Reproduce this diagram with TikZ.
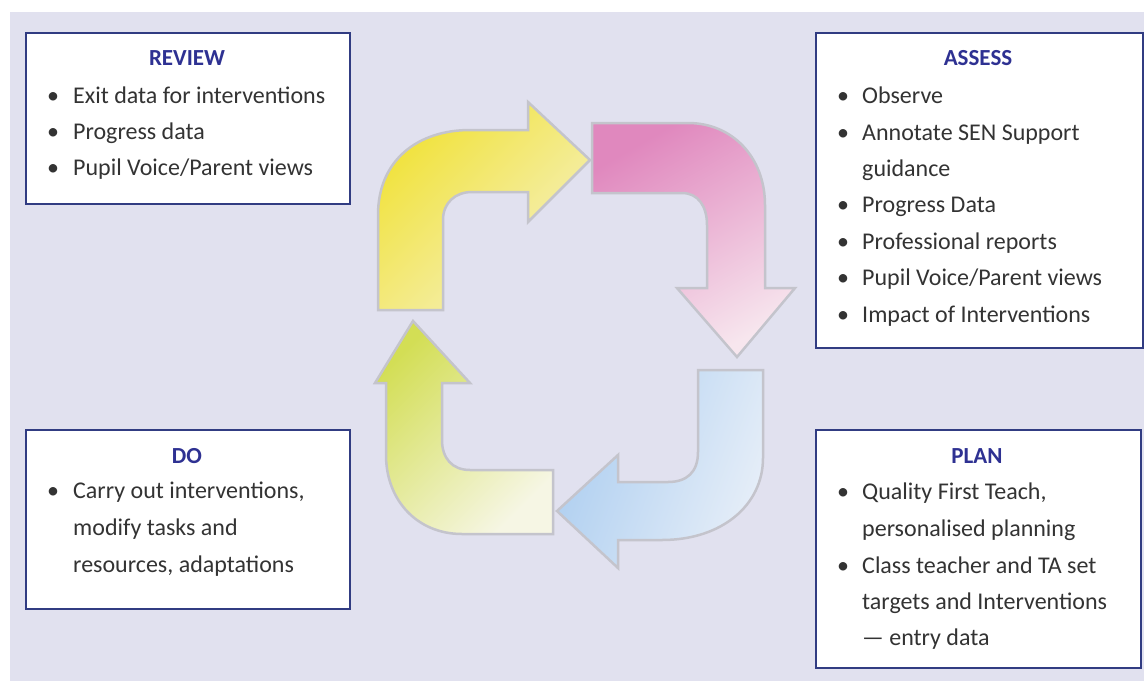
\documentclass[tikz,border=0pt]{standalone}
\usepackage{fontspec}
\setmainfont{Carlito}
\definecolor{bg}{HTML}{E1E1EF}
\definecolor{boxblue}{HTML}{313C82}
\definecolor{ttlblue}{HTML}{2E3192}
\definecolor{txt}{HTML}{333333}
\definecolor{arrline}{HTML}{C4C4CC}
\definecolor{yelA}{HTML}{F1E23A}
\definecolor{yelB}{HTML}{F5F1C2}
\definecolor{pinkA}{HTML}{E088BE}
\definecolor{pinkB}{HTML}{F7E6EE}
\definecolor{bluA}{HTML}{ADCEF0}
\definecolor{bluB}{HTML}{E6EEF8}
\definecolor{grnA}{HTML}{D3DE55}
\definecolor{grnB}{HTML}{F6F6E4}
\begin{document}
\begin{tikzpicture}[x=1pt,y=-1pt,
  box/.style={draw=boxblue,line width=2pt,fill=white,anchor=north west,inner sep=0pt},
  ttl/.style={anchor=base,inner sep=0pt,text=ttlblue,font=\fontsize{23}{28}\selectfont\bfseries},
  itm/.style={anchor=base west,inner sep=0pt,text=txt,font=\fontsize{24}{29}\selectfont},
  bul/.style={anchor=base,inner sep=0pt,text=txt,font=\fontsize{24}{29}\selectfont},
  arrowshape/.style={draw=arrline,line width=2.5pt,line join=miter}]
\useasboundingbox (0,0) rectangle (1144,681);
\fill[white] (0,0) rectangle (1144,681);
\fill[bg] (10,12) rectangle (1144,681);

% cycle arrows
\path[arrowshape,top color=yelA,bottom color=yelB,shading angle=45]
  (378,310) -- (378,215) .. controls (378,160) and (418,130) .. (470,130)
  -- (528,130) -- (528,102) -- (590,160) -- (528,222) -- (528,192) -- (472,192)
  .. controls (455,192) and (443,203) .. (443,220) -- (443,310) -- cycle;
\path[arrowshape,top color=pinkA,bottom color=pinkB,shading angle=30]
  (592,123) -- (688,123) .. controls (733,123) and (765,158) .. (765,205)
  -- (765,288) -- (795,288) -- (737,357) -- (677,288) -- (707,288) -- (707,225)
  .. controls (707,206) and (698,193) .. (682,193) -- (592,193) -- cycle;
\path[arrowshape,left color=bluA,right color=bluB,shading angle=70]
  (698,370) -- (763,370) -- (763,458) .. controls (763,505) and (722,540) .. (662,540)
  -- (618,540) -- (618,568) -- (557,511) -- (618,455) -- (618,482) -- (668,482)
  .. controls (687,482) and (698,472) .. (698,452) -- cycle;
\path[arrowshape,top color=grnA,bottom color=grnB,shading angle=45]
  (553,470) -- (553,534) -- (462,534) .. controls (417,534) and (386,500) .. (386,455)
  -- (386,383) -- (375,383) -- (413,321) -- (470,383) -- (442,383) -- (442,440)
  .. controls (442,458) and (452,470) .. (470,470) -- cycle;

% REVIEW
\node[box,minimum width=324pt,minimum height=171pt] (review) at (25,32) {};
\node[ttl] (reviewT) at (187,65) {REVIEW};
\node[bul] (rb1) at (53,103) {\textbullet};
\node[itm] (r1) at (73,103) {Exit data for interventions};
\node[bul] (rb2) at (53,139) {\textbullet};
\node[itm] (r2) at (73,139) {Progress data};
\node[bul] (rb3) at (53,175) {\textbullet};
\node[itm] (r3) at (73,175) {Pupil Voice/Parent views};

% ASSESS
\node[box,minimum width=327pt,minimum height=315pt] (assess) at (815,32) {};
\node[ttl] (assessT) at (978,65) {ASSESS};
\node[bul] (ab1) at (843,103) {\textbullet};
\node[itm] (a1) at (862,103) {Observe};
\node[bul] (ab2) at (843,140) {\textbullet};
\node[itm] (a2) at (862,140) {Annotate SEN Support};
\node[itm] (a2b) at (862,176) {guidance};
\node[bul] (ab3) at (843,212) {\textbullet};
\node[itm] (a3) at (862,212) {Progress Data};
\node[bul] (ab4) at (843,249) {\textbullet};
\node[itm] (a4) at (862,249) {Professional reports};
\node[bul] (ab5) at (843,285) {\textbullet};
\node[itm] (a5) at (862,285) {Pupil Voice/Parent views};
\node[bul] (ab6) at (843,322) {\textbullet};
\node[itm] (a6) at (862,322) {Impact of Interventions};

% DO
\node[box,minimum width=324pt,minimum height=179pt] (do) at (25,429) {};
\node[ttl] (doT) at (187,463) {DO};
\node[bul] (db1) at (53,498) {\textbullet};
\node[itm] (d1) at (73,498) {Carry out interventions,};
\node[itm] (d1b) at (73,535) {modify tasks and};
\node[itm] (d1c) at (73,572) {resources, adaptations};

% PLAN
\node[box,minimum width=325pt,minimum height=238pt] (plan) at (815,429) {};
\node[ttl] (planT) at (977,463) {PLAN};
\node[bul] (pb1) at (843,499) {\textbullet};
\node[itm] (p1) at (862,499) {Quality First Teach,};
\node[itm] (p1b) at (862,536) {personalised planning};
\node[bul] (pb2) at (843,573) {\textbullet};
\node[itm] (p2) at (862,573) {Class teacher and TA set};
\node[itm] (p2b) at (862,609) {targets and Interventions};
\node[itm] (p2c) at (862,645) {— entry data};
\end{tikzpicture}
\end{document}
